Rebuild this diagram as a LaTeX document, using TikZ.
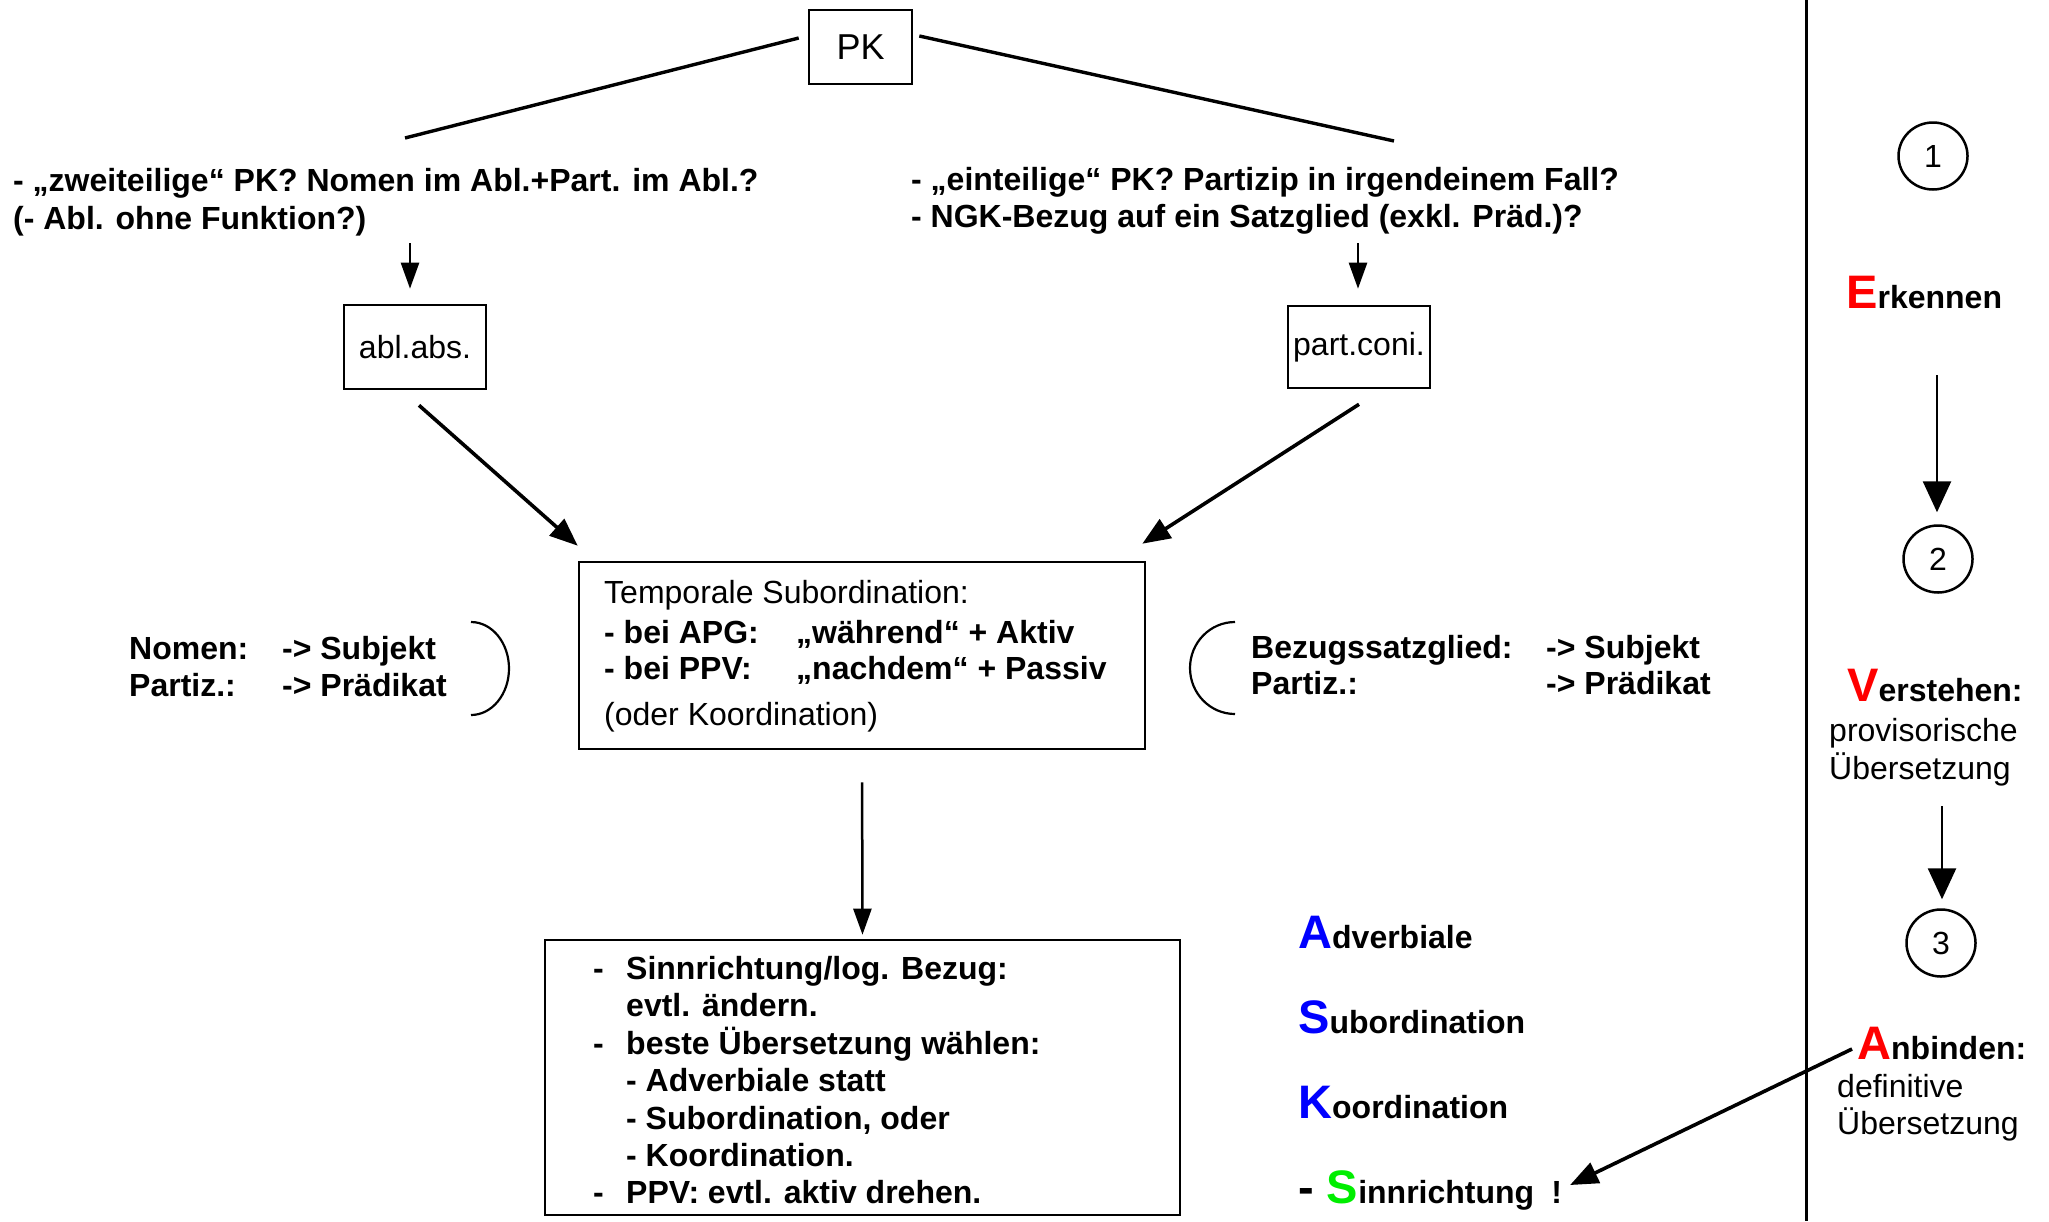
\documentclass[tikz,border=0pt]{standalone}
\usepackage{fontspec}
\setmainfont{Liberation Sans}
\usetikzlibrary{arrows.meta,shapes.geometric}
\definecolor{bigred}{RGB}{255,0,0}
\definecolor{bigblue}{RGB}{0,0,255}
\definecolor{biggreen}{RGB}{0,238,0}
\newcommand{\fsz}{\fontsize{32}{37}\selectfont}
\newcommand{\BigLetter}[2][bigred]{{\fontsize{47}{47}\selectfont\color{#1}#2}}
\newcommand{\linesblock}[1]{\begin{tabular}[t]{@{}l@{}}#1\end{tabular}}
\begin{document}
\begin{tikzpicture}[x=1pt,y=-1pt,
  txt/.style={inner sep=0pt, anchor=base west, font=\fsz},
  btxt/.style={inner sep=0pt, anchor=base west, font=\fsz\bfseries},
  box/.style={draw, line width=2.6pt, inner sep=0pt},
  circ/.style={draw, ellipse, line width=2.5pt, inner sep=0pt, minimum width=69pt, minimum height=67pt, font=\fsz},
  thick3/.style={line width=3.4pt},
  brk/.style={line width=2.2pt},
  arrS/.style={line width=2.5pt, -{Triangle[length=26pt,width=18pt]}},
  arrL/.style={line width=3.6pt, -{Triangle[length=28pt,width=22pt]}},
  arrR/.style={line width=2.7pt, -{Triangle[length=31pt,width=28pt]}}
]
\useasboundingbox (0,0) rectangle (2049,1221);

% PK and questions
\node[box, minimum width=103pt, minimum height=74pt, font=\fontsize{36}{36}\selectfont] (pk) at (860.5,47) {PK};
\node[btxt, font=\fontsize{32}{38}\selectfont\bfseries] (qleft) at (13,191) {\linesblock{- „zweiteilige“ PK? Nomen im Abl.+Part. im Abl.?\\(- Abl. ohne Funktion?)}};
\node[btxt] (qright) at (911,190) {\linesblock{- „einteilige“ PK? Partizip in irgendeinem Fall?\\- NGK-Bezug auf ein Satzglied (exkl. Präd.)?}};
\coordinate (pkl) at (405,138);
\coordinate (pkr) at (1394,141);
\draw[thick3] ([xshift=-9pt,yshift=9pt]pk.west) -- (pkl);
\draw[thick3] ([xshift=6pt,yshift=11pt]pk.east) -- (pkr);

% abl.abs. / part.coni.
\node[box, minimum width=142pt, minimum height=84pt, font=\fsz] (abl) at (415,347) {abl.abs.};
\node[box, minimum width=142pt, minimum height=82pt, font=\fsz] (part) at (1359,347) {part.coni.};
\coordinate (qla) at (410,243);
\coordinate (qra) at (1358,243);
\draw[arrS, shorten >=15pt] (qla) -- (qla |- abl.north);
\draw[arrS, shorten >=16pt] (qra) -- (qra |- part.north);

% temporal box
\node[box, minimum width=566pt, minimum height=187pt] (temp) at (862,655.5) {};
\node[txt] (t1) at (604,603) {Temporale Subordination:};
\node[btxt] (t2) at (604,643) {\makebox[192pt][l]{- bei APG:}„während“ + Aktiv};
\node[btxt] (t3) at (604,679) {\makebox[192pt][l]{- bei PPV:}„nachdem“ + Passiv};
\node[txt] (t4) at (604,725) {(oder Koordination)};
\draw[arrL] ([xshift=4pt,yshift=-15pt]abl.south) -- ([yshift=15pt]temp.north west);
\draw[arrL] ([yshift=-15pt]part.south) -- ([xshift=-4pt,yshift=17pt]temp.north east);

% brackets
\node[btxt] (lbr) at (129,659) {\linesblock{\makebox[153pt][l]{Nomen:}-> Subjekt\\\makebox[153pt][l]{Partiz.:}-> Prädikat}};
\draw[brk] (471,622) arc[start angle=90, end angle=-90, x radius=38pt, y radius=46.5pt];
\node[btxt, font=\fontsize{32}{36}\selectfont\bfseries] (rbr) at (1251,658) {\linesblock{\makebox[295pt][l]{Bezugssatzglied:}-> Subjekt\\\makebox[295pt][l]{Partiz.:}-> Prädikat}};
\draw[brk] (1235,622) arc[start angle=90, end angle=270, x radius=45pt, y radius=46pt];

% bottom box
\node[box, minimum width=635pt, minimum height=275pt] (bot) at (862.5,1077.5) {};
\draw[arrS, shorten <=32pt, shorten >=4pt] (temp.south) -- (bot.north);
\node[btxt, font=\fontsize{32}{37.2}\selectfont\bfseries] (botx) at (593,979) {\linesblock{%
\makebox[33pt][l]{-}Sinnrichtung/log. Bezug:\\
\hspace*{33pt}evtl. ändern.\\
\makebox[33pt][l]{-}beste Übersetzung wählen:\\
\hspace*{33pt}- Adverbiale statt\\
\hspace*{33pt}- Subordination, oder\\
\hspace*{33pt}- Koordination.\\
\makebox[33pt][l]{-}PPV: evtl. aktiv drehen.}};

% ASKS
\node[btxt] (asA) at (1298,948) {\BigLetter[bigblue]{A}dverbiale};
\node[btxt] (asS) at (1298,1033) {\BigLetter[bigblue]{S}ubordination};
\node[btxt] (asK) at (1298,1118) {\BigLetter[bigblue]{K}oordination};
\node[btxt] (asS2) at (1298,1203) {\BigLetter[black]{- }\BigLetter[biggreen]{S}innrichtung\hspace{17pt}!};

% right column
\draw[line width=3pt] (1806,0) -- (1806,1221);
\node[circ] (c1) at (1933,156) {1};
\node[btxt] (erk) at (1846,308) {\BigLetter{E}rkennen};
\node[circ] (c2) at (1938,559) {2};
\coordinate (a1s) at (1937,375);
\draw[arrR, shorten >=12pt] (a1s) -- (a1s |- c2.north);
\node[btxt] (ver) at (1847,701) {\BigLetter{V}erstehen:};
\node[txt, font=\fontsize{32}{38}\selectfont] (verx) at (1829,741) {\linesblock{provisorische\\Übersetzung}};
\node[circ] (c3) at (1941,943) {3};
\coordinate (a2s) at (1942,806);
\draw[arrR, shorten >=9pt] (a2s) -- (a2s |- c3.north);
\node[btxt] (anb) at (1857,1059) {\BigLetter{A}nbinden:};
\node[txt, font=\fontsize{32}{36}\selectfont] (anbx) at (1837,1097) {\linesblock{definitive\\Übersetzung}};
\draw[arrL] ([xshift=-5pt,yshift=10pt]anb.base west) -- ([xshift=8pt,yshift=18pt]asS2.base east);
\end{tikzpicture}
\end{document}
